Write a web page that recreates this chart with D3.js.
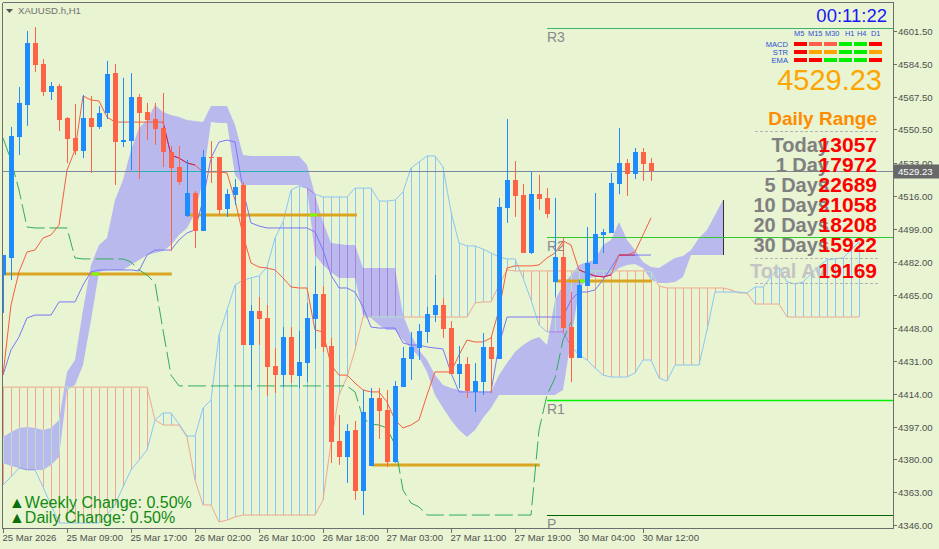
<!DOCTYPE html>
<html><head><meta charset="utf-8">
<script src="https://cdn.jsdelivr.net/npm/d3@7"></script>
<style>html,body{margin:0;padding:0;background:#e8f4d2;}svg{display:block;font-family:"Liberation Sans",Arial,sans-serif;}</style>
</head><body>
<svg id="c" width="939" height="549"></svg>
<script>
// ---------------- DATA ----------------
const symbolTitle = "XAUUSD.h,H1";
const timeLabels = ["25 Mar 2026","25 Mar 09:00","25 Mar 17:00","26 Mar 02:00","26 Mar 10:00","26 Mar 18:00","27 Mar 03:00","27 Mar 11:00","27 Mar 19:00","30 Mar 04:00","30 Mar 12:00"];
const timeLabelIdx = [0,8,16,24,32,40,48,56,64,72,80];
const yTicks = [4601.5,4584.5,4567.5,4550.5,4533,4516,4499,4482,4465,4448,4431,4414,4397,4380,4363,4346];

const open  = [4475.3,4484.1,4546.6,4563.1,4595.2,4584.3,4569.8,4572.9,4556.4,4546.1,4539.4,4556.4,4551.8,4559.0,4579.6,4544.0,4544.5,4567.2,4559.5,4555.9,4551.2,4538.8,4531.1,4505.8,4517.7,4498.0,4536.3,4536.3,4509.4,4516.6,4521.8,4439.1,4456.7,4453.1,4428.3,4423.6,4443.3,4423.1,4429.8,4452.6,4465.5,4438.6,4389.5,4381.3,4395.2,4363.7,4376.6,4411.8,4405.6,4378.7,4417.4,4431.9,4437.6,4445.9,4454.6,4459.8,4447.9,4424.2,4429.3,4414.9,4420.0,4438.1,4431.9,4509.9,4524.4,4516.6,4486.7,4517.1,4515.1,4471.7,4484.6,4448.4,4432.4,4469.6,4481.0,4496.0,4497.0,4522.3,4533.2,4527.5,4538.8,4533.2];
const high  = [4485.6,4551.8,4572.4,4601.3,4603.4,4586.9,4575.0,4574.0,4556.9,4563.6,4568.3,4567.8,4562.6,4585.9,4584.3,4577.1,4579.6,4568.8,4564.2,4564.2,4569.3,4541.9,4541.9,4534.7,4518.7,4539.9,4544.5,4536.3,4519.7,4524.9,4523.3,4459.8,4463.9,4459.8,4437.6,4448.4,4448.4,4446.4,4460.8,4479.9,4469.6,4442.8,4403.0,4398.3,4399.9,4415.9,4416.9,4416.9,4415.9,4420.5,4438.1,4445.9,4450.0,4458.8,4475.3,4463.4,4451.5,4438.6,4432.9,4429.8,4445.3,4443.8,4515.1,4555.9,4534.2,4522.3,4529.0,4527.0,4520.2,4515.1,4494.9,4466.5,4472.7,4500.1,4517.7,4499.1,4528.0,4551.2,4535.2,4540.9,4540.9,4535.7];
const low   = [4455.7,4472.7,4537.3,4552.3,4580.2,4567.8,4565.7,4549.7,4533.2,4537.3,4535.7,4528.0,4550.7,4555.9,4521.8,4541.4,4529.5,4524.9,4545.0,4542.5,4531.1,4487.7,4521.8,4505.3,4489.2,4498.0,4522.8,4506.3,4505.3,4511.5,4439.1,4415.9,4439.1,4412.8,4414.3,4417.4,4419.5,4416.9,4420.0,4437.1,4435.5,4378.2,4377.2,4367.9,4359.1,4351.3,4376.6,4390.6,4376.1,4378.2,4417.4,4421.1,4431.4,4440.2,4451.0,4442.8,4424.2,4416.9,4411.8,4404.5,4413.3,4414.3,4431.9,4502.2,4505.3,4486.7,4486.1,4508.9,4504.7,4463.9,4445.9,4420.0,4432.4,4469.6,4481.0,4486.7,4497.0,4517.1,4516.1,4524.9,4523.9,4523.9];
const close = [4485.6,4547.1,4564.2,4595.2,4583.8,4569.8,4572.9,4555.4,4545.6,4539.4,4556.4,4551.8,4559.0,4579.1,4544.0,4545.0,4567.2,4559.0,4555.4,4550.7,4538.8,4530.6,4523.3,4517.7,4498.0,4536.3,4535.7,4508.9,4517.1,4520.8,4439.1,4456.7,4452.6,4427.8,4423.6,4443.3,4423.6,4430.4,4453.1,4465.5,4438.1,4389.0,4381.3,4394.7,4363.7,4404.5,4411.8,4405.0,4378.7,4418.0,4432.4,4438.1,4446.4,4455.2,4459.8,4447.4,4424.2,4429.3,4415.4,4420.5,4438.1,4431.9,4510.4,4524.4,4516.1,4486.7,4517.1,4514.6,4506.8,4484.6,4447.9,4432.4,4470.1,4481.5,4496.5,4497.5,4522.8,4533.2,4527.5,4538.8,4532.6,4529.23];
const currentPrice = 4529.23;

const tenkan = [4423.6,4459.8,4476.9,4487.2,4488.2,4494.4,4496.0,4501.1,4529.5,4539.9,4567.8,4565.7,4565.2,4556.9,4554.3,4554.3,4554.3,4554.3,4554.3,4554.3,4554.3,4537.3,4535.7,4533.2,4532.1,4528.5,4528.5,4528.5,4528.0,4514.0,4496.0,4481.5,4479.4,4478.9,4477.9,4473.8,4469.1,4468.6,4468.6,4446.9,4445.9,4428.8,4423.6,4423.6,4419.5,4415.9,4414.9,4414.9,4409.7,4400.4,4396.3,4397.8,4400.4,4413.3,4425.2,4425.2,4425.2,4434.0,4441.7,4440.7,4440.7,4442.8,4457.2,4478.9,4480.0,4480.0,4480.0,4480.5,4484.1,4486.7,4492.9,4490.8,4477.9,4476.3,4474.8,4474.3,4475.3,4485.6,4485.6,4487.2,4496.0,4504.8];
const kijun  = [4423.6,4436.6,4443.3,4453.1,4454.6,4454.6,4454.6,4461.4,4461.4,4461.4,4470.1,4476.9,4477.9,4477.9,4477.9,4477.9,4477.9,4477.4,4485.6,4488.2,4488.2,4488.2,4493.4,4497.0,4498.6,4514.0,4535.7,4544.0,4545.0,4544.0,4519.2,4502.2,4500.6,4499.6,4499.6,4499.6,4499.6,4499.6,4499.6,4497.5,4488.2,4475.3,4468.6,4468.6,4466.5,4458.8,4448.4,4447.9,4447.9,4447.9,4440.2,4439.1,4439.1,4438.1,4437.6,4437.1,4424.7,4414.9,4414.9,4414.9,4414.9,4414.9,4439.1,4453.6,4453.6,4453.6,4453.6,4453.6,4453.6,4453.6,4453.6,4462.4,4466.5,4466.5,4467.6,4472.7,4478.9,4485.6,4485.6,4485.6,4485.6,4485.6];
const tenkanOverlap = [[20,24],[72,76]];
const kijunOverlap = [[77,79]];
const lagging = [4546.1,4534.7,4519.2,4500.1,4499.6,4499.6,4499.6,4499.6,4499.6,4484.1,4483.6,4483.6,4483.6,4483.6,4483.6,4483.6,4482.0,4477.9,4475.3,4471.2,4446.9,4423.6,4418.0,4418.0,4418.0,4418.0,4418.0,4418.0,4418.0,4418.0,4418.0,4418.0,4418.0,4418.0,4418.0,4418.0,4418.0,4418.0,4418.0,4418.0,4418.0,4418.0,4418.0,4418.0,4414.9,4401.4,4398.3,4397.8,4396.3,4387.5,4364.2,4357.5,4355.5,4351.3,4351.3,4351.3,4351.3,4351.3,4351.3,4351.3,4351.3,4351.3,4351.3,4351.3,4351.3,4351.3,4351.3,4395.2,4413.3,4422.1,4441.7,4451.0];

const kumoTop = [4391.6,4394.2,4396.3,4396.8,4396.3,4395.2,4396.3,4400.4,4425.2,4431.4,4457.2,4480.5,4490.8,4494.4,4514.0,4524.4,4539.9,4551.2,4555.4,4563.1,4559.5,4558.0,4556.9,4555.4,4554.9,4554.3,4562.6,4562.6,4562.6,4552.8,4537.3,4536.8,4536.8,4536.8,4536.8,4536.8,4536.8,4536.8,4532.1,4516.6,4502.7,4491.8,4491.3,4490.8,4490.8,4478.9,4478.9,4478.9,4478.9,4478.9,4454.6,4444.3,4436.6,4431.4,4423.6,4418.5,4416.9,4415.9,4414.9,4414.9,4414.9,4414.9,4423.6,4429.8,4435.5,4439.1,4441.7,4443.3,4439.1,4462.4,4470.1,4475.3,4480.5,4482.0,4483.1,4490.8,4493.4,4502.7,4493.4,4488.2,4482.0,4479.4,4478.9,4481.5,4484.1,4485.1,4488.2,4494.4,4498.6,4506.3,4514.0];
const kumoBottom = [4378.2,4376.6,4375.6,4374.6,4374.6,4374.6,4377.2,4381.3,4415.9,4418.5,4428.8,4452.1,4476.9,4477.9,4477.9,4477.9,4480.5,4483.1,4485.6,4486.7,4487.7,4490.8,4496.0,4499.6,4507.3,4524.4,4554.3,4553.8,4553.8,4527.0,4521.8,4521.8,4521.8,4521.8,4521.8,4521.8,4521.8,4521.8,4520.2,4485.6,4480.5,4476.9,4473.8,4473.8,4473.8,4454.6,4453.1,4449.5,4446.9,4446.9,4441.7,4437.6,4432.9,4425.2,4413.3,4406.6,4400.4,4395.2,4391.6,4395.2,4401.4,4406.6,4413.3,4413.3,4413.3,4413.3,4413.3,4413.3,4413.3,4413.3,4415.9,4441.7,4467.6,4473.8,4474.3,4474.3,4475.3,4478.9,4480.5,4481.0,4478.9,4472.7,4471.2,4471.2,4471.7,4474.3,4485.6,4485.6,4485.6,4485.6,4485.6];

const spanA = [4366.8,4371.0,4375.6,4374.6,4374.6,4365.8,4356.5,4347.2,4347.2,4347.2,4347.2,4347.2,4347.2,4351.3,4356.5,4365.8,4374.6,4379.7,4384.9,4400.4,4404.0,4404.0,4398.3,4392.1,4392.1,4406.6,4410.7,4444.3,4457.2,4470.1,4472.7,4473.8,4474.8,4479.4,4494.4,4502.7,4519.2,4521.3,4520.2,4517.1,4515.6,4515.6,4515.6,4515.6,4520.2,4520.2,4520.2,4513.5,4513.5,4514.0,4518.2,4530.6,4533.7,4536.8,4536.8,4531.1,4507.9,4491.8,4490.3,4490.3,4488.7,4486.7,4484.6,4483.6,4483.6,4473.8,4462.4,4449.5,4445.9,4445.9,4445.9,4438.6,4434.0,4431.4,4427.3,4423.6,4422.6,4422.6,4422.6,4424.7,4431.4,4431.4,4422.1,4420.5,4428.8,4428.8,4428.8,4428.8,4446.9,4466.5,4466.5,4466.5,4466.5,4466.0,4469.1,4469.1,4474.3,4479.4,4471.7,4470.7,4471.7,4475.8,4480.0,4483.1,4483.6,4484.1,4488.2,4492.3];
const spanB = [4417.4,4417.4,4417.4,4417.4,4417.4,4417.4,4417.4,4417.4,4417.4,4417.4,4417.4,4417.4,4417.4,4417.4,4417.4,4417.4,4417.4,4417.4,4417.4,4400.4,4397.8,4397.8,4397.8,4391.6,4369.4,4356.5,4356.5,4347.7,4348.7,4350.3,4351.3,4351.3,4351.3,4351.3,4351.3,4351.3,4351.3,4351.3,4351.3,4351.3,4359.1,4388.5,4413.3,4422.6,4436.6,4453.6,4453.6,4453.6,4453.6,4453.6,4453.6,4453.6,4453.6,4453.6,4453.6,4453.6,4453.6,4453.6,4453.6,4460.8,4461.4,4461.4,4470.1,4477.9,4477.4,4477.4,4477.4,4477.4,4477.4,4477.4,4477.4,4477.4,4477.4,4477.4,4477.4,4477.4,4477.4,4477.4,4477.4,4477.4,4477.4,4476.9,4469.6,4468.6,4468.6,4468.6,4468.6,4468.6,4468.6,4468.6,4468.6,4467.6,4466.0,4466.0,4460.3,4460.3,4460.3,4460.3,4453.6,4453.6,4453.6,4453.6,4453.6,4453.6,4453.6,4453.6,4453.6,4453.6];

const levelPrice = [4475.8,4506.3,4377.2,4472.2];
const levelFrom  = [0,23.1,46.1,69.1];
const levelTo    = [21.1,44.25,67.1,81.1];
const levelMark  = [11.5,38.75,null,72.4];

const pivotNames  = ["R3","R2","R1","P"];
const pivotValues = [4602.9,4494.9,4410.7,4351.3];
const pivotStart  = 68;

const timerText = "00:11:22";
const tfNames = ["M5","M15","M30","H1","H4","D1"];
const sigNames = ["MACD","STR","EMA"];
const sigStates = [["down","weak","weak","up","up","down"],["down","flat","flat","up","up","flat"],["down","down","up","up","up","down"]];
const rangeLabels = ["Today","1 Day","5 Days","10 Days","20 Days","30 Days"];
const rangeValues = ["13057","17972","22689","21058","18208","15922"];
const totalLabel = "Total Av", totalValue = "19169";
const weeklyChange = "0.50%", dailyChange = "0.50%";

// ---------------- DRAW ----------------
const W = 939, H = 549;
const plotL = 3, plotR = 893, plotT = 3, plotB = 528;
const svg = d3.select("#c");
const x = d3.scaleLinear().domain([0,110]).range([3,883]);
const y = d3.scaleLinear().domain([4346,4601.5]).range([525.3,30.7]);

svg.append("rect").attr("width",W).attr("height",H).attr("fill","#e8f4d2");
const defs = svg.append("defs");
defs.append("clipPath").attr("id","clip").append("rect")
  .attr("x",plotL).attr("y",plotT).attr("width",plotR-plotL).attr("height",plotB-plotT);
const g = svg.append("g").attr("clip-path","url(#clip)");
const px = i => Math.round(x(i)) + 0.5;

const area = d3.area().x((d,i)=>x(i)).y0((d,i)=>y(kumoBottom[i])).y1(d=>y(d));
defs.append("clipPath").attr("id","kumoClip").append("path").attr("d",area(kumoTop));

// hatched cloud
const lineOf = arr => d3.line().defined(d=>d!=null).x((d,i)=>x(i)).y(d=>y(d))(arr);
function drawHatch(parent, colBull, colBear){
  parent.append("g").selectAll("line").data(d3.range(spanA.length)).join("line")
    .attr("x1",px).attr("x2",px)
    .attr("y1",i=>y(spanA[i])).attr("y2",i=>y(spanB[i]))
    .attr("stroke",i=>spanA[i]>=spanB[i]?colBull:colBear).attr("stroke-width",1);
  parent.append("path").attr("d",lineOf(spanB)).attr("fill","none").attr("stroke",colBear);
  parent.append("path").attr("d",lineOf(spanA)).attr("fill","none").attr("stroke",colBull);
}
drawHatch(g,"#8cc6f4","#eeaa8e");

// purple kumo
g.append("path").attr("d",area(kumoTop)).attr("fill","#b9b9ee");
drawHatch(g.append("g").attr("clip-path","url(#kumoClip)"),"#b27ee0","#b2e4c6");
const lastK = kumoTop.length-1;
g.append("line").attr("x1",px(lastK)).attr("x2",px(lastK))
  .attr("y1",y(kumoTop[lastK])).attr("y2",y(kumoBottom[lastK])).attr("stroke","#333");

// orange levels
levelPrice.forEach((p,k)=>{
  g.append("line").attr("x1",x(levelFrom[k])).attr("x2",x(levelTo[k]))
    .attr("y1",Math.round(y(p))).attr("y2",Math.round(y(p)))
    .attr("stroke","#daa520").attr("stroke-width",3);
  if(levelMark[k]!=null){
    g.append("line").attr("x1",x(levelMark[k])-3).attr("x2",x(levelMark[k])+4)
      .attr("y1",Math.round(y(p))).attr("y2",Math.round(y(p)))
      .attr("stroke","#7cfc00").attr("stroke-width",3);
  }
});

// ichimoku lines
g.append("path").attr("d",lineOf(lagging)).attr("fill","none").attr("stroke","#30ad5a").attr("stroke-dasharray","18,5");
g.append("path").attr("d",lineOf(kijun)).attr("fill","none").attr("stroke","#7a78f5");
g.append("path").attr("d",lineOf(tenkan)).attr("fill","none").attr("stroke","#f55f40");
const overlapPath = (arr,ranges)=>ranges.forEach(([a,b])=>{
  const seg = arr.map((v,i)=> (i>=a && i<=b) ? v : null);
  g.append("path").attr("d",lineOf(seg)).attr("fill","none").attr("stroke","#b8286a");
});
overlapPath(tenkan,tenkanOverlap);
overlapPath(kijun,kijunOverlap);

// pivots
const pivotColors = ["#3cb371","#32c832","#00f000","#006400"];
pivotValues.forEach((v,k)=>{
  const yy = Math.round(y(v))+0.5;
  g.append("line").attr("x1",x(pivotStart)).attr("x2",plotR).attr("y1",yy).attr("y2",yy)
    .attr("stroke",pivotColors[k]).attr("stroke-width",k===2?1.5:1.2);
  g.append("text").attr("x",x(pivotStart)).attr("y",yy+13).text(pivotNames[k])
    .attr("font-size",14).attr("fill","#8a8a8a");
});

// current price line
const cpY = Math.round(y(currentPrice))+0.5;
g.append("line").attr("x1",plotL).attr("x2",plotR).attr("y1",cpY).attr("y2",cpY).attr("stroke","#7a8a9c");
d3.range(kumoTop.length-1).forEach(i=>{
  if(kumoTop[i]>=currentPrice && kumoBottom[i]<=currentPrice && kumoTop[i+1]>=currentPrice && kumoBottom[i+1]<=currentPrice){
    g.append("line").attr("x1",x(i)).attr("x2",x(i+1)).attr("y1",cpY).attr("y2",cpY).attr("stroke","#22b5b0");
  }
});

// candles
const idx = d3.range(open.length);
const cg = g.append("g");
cg.selectAll("line").data(idx).join("line")
  .attr("x1",px).attr("x2",px).attr("y1",i=>y(high[i])).attr("y2",i=>y(low[i]))
  .attr("stroke",i=>close[i]>=open[i]?"#1e8cff":"#ff6347");
cg.selectAll("rect").data(idx).join("rect")
  .attr("x",i=>Math.round(x(i))-2).attr("width",5)
  .attr("y",i=>Math.round(y(Math.max(open[i],close[i]))))
  .attr("height",i=>Math.max(1,Math.round(y(Math.min(open[i],close[i])))-Math.round(y(Math.max(open[i],close[i])))))
  .attr("fill",i=>close[i]>=open[i]?"#1e8cff":"#ff6347");

// frame
const frame = svg.append("g").attr("stroke","#6e6e6e").attr("shape-rendering","crispEdges");
frame.append("line").attr("x1",2.5).attr("x2",893.5).attr("y1",2.5).attr("y2",2.5);
frame.append("line").attr("x1",2.5).attr("x2",2.5).attr("y1",2.5).attr("y2",528.5);
frame.append("line").attr("x1",2.5).attr("x2",893.5).attr("y1",528.5).attr("y2",528.5);
frame.append("line").attr("x1",893.5).attr("x2",893.5).attr("y1",2.5).attr("y2",528.5);

// right axis
const fmt = d3.format(".2f");
const ra = svg.append("g");
yTicks.forEach(t=>{
  const yy = Math.round(y(t))+0.5;
  ra.append("line").attr("x1",893).attr("x2",897).attr("y1",yy).attr("y2",yy).attr("stroke","#6e6e6e");
  ra.append("text").attr("x",898).attr("y",yy+3.5).text(fmt(t)).attr("font-size",9.6).attr("fill","#505050");
});
ra.append("rect").attr("x",894).attr("y",cpY-7).attr("width",45).attr("height",14).attr("fill","#686868");
ra.append("text").attr("x",898).attr("y",cpY+3.5).text(fmt(currentPrice)).attr("font-size",9.6).attr("fill","#ffffff");

// bottom axis
timeLabels.forEach((t,k)=>{
  const xx = px(timeLabelIdx[k]);
  svg.append("line").attr("x1",xx).attr("x2",xx).attr("y1",528).attr("y2",533).attr("stroke","#6e6e6e");
  svg.append("text").attr("x",xx-1).attr("y",541).text(t).attr("font-size",9.6).attr("fill","#505050");
});

// title
svg.append("path").attr("d","M6,9 L13,9 L9.5,13 Z").attr("fill","#555");
svg.append("text").attr("x",18).attr("y",14).text(symbolTitle).attr("font-size",9.6).attr("fill","#707070");

// panel
svg.append("text").attr("x",887).attr("y",22).attr("text-anchor","end").text(timerText)
  .attr("font-size",18.5).attr("fill","#1818f5");
const colX = d3.range(tfNames.length).map(k=>794+15*k);
const tfX = [794,808,825,845,857,871];
tfNames.forEach((n,k)=> svg.append("text").attr("x",tfX[k]).attr("y",36).text(n).attr("font-size",7.4).attr("fill","#2c4fd8"));
const stateCol = {down:"#ff0000",weak:"#ff5f4a",flat:"#ffa500",up:"#00ee00"};
sigNames.forEach((n,r)=>{
  const ty = 42+8*r;
  svg.append("text").attr("x",788).attr("y",ty+4.5).attr("text-anchor","end").text(n).attr("font-size",7.6).attr("fill","#2c4fd8");
  sigStates[r].forEach((s,k)=> svg.append("rect").attr("x",colX[k]).attr("y",ty).attr("width",13).attr("height",4).attr("fill",stateCol[s]));
});
svg.append("text").attr("x",882).attr("y",90).attr("text-anchor","end").text(fmt(currentPrice))
  .attr("font-size",29).attr("fill","#ffa500");
svg.append("text").attr("x",877).attr("y",125).attr("text-anchor","end").text("Daily Range")
  .attr("font-size",19).attr("font-weight","bold").attr("fill","#ff8c00");
[131,258,283].forEach(yy=> svg.append("line").attr("x1",755).attr("x2",878).attr("y1",yy+0.5).attr("y2",yy+0.5)
  .attr("stroke","#b4b4b4").attr("stroke-dasharray","3,2"));
rangeLabels.forEach((l,k)=>{
  const by = 152+20*k;
  svg.append("text").attr("x",829).attr("y",by).attr("text-anchor","end").text(l)
    .attr("font-size",20).attr("font-weight","bold").attr("fill","#808080");
  svg.append("text").attr("x",877).attr("y",by).attr("text-anchor","end").text(rangeValues[k])
    .attr("font-size",21).attr("font-weight","bold").attr("fill","#ff0000");
});
svg.append("text").attr("x",826).attr("y",278).attr("text-anchor","end").text(totalLabel)
  .attr("font-size",20).attr("font-weight","bold").attr("fill","#c4c4c4");
svg.append("text").attr("x",877).attr("y",278).attr("text-anchor","end").text(totalValue)
  .attr("font-size",21).attr("font-weight","bold").attr("fill","#ff0000");

// change texts
[["Weekly Change: ",weeklyChange,507.5],["Daily Change: ",dailyChange,523]].forEach(([lab,val,by])=>{
  const t = svg.append("text").attr("x",9).attr("y",by).attr("font-size",16).attr("fill","#138a13");
  t.append("tspan").text("▲").attr("fill","#0a6e0a");
  t.append("tspan").text(lab+val);
});
</script>
</body></html>
